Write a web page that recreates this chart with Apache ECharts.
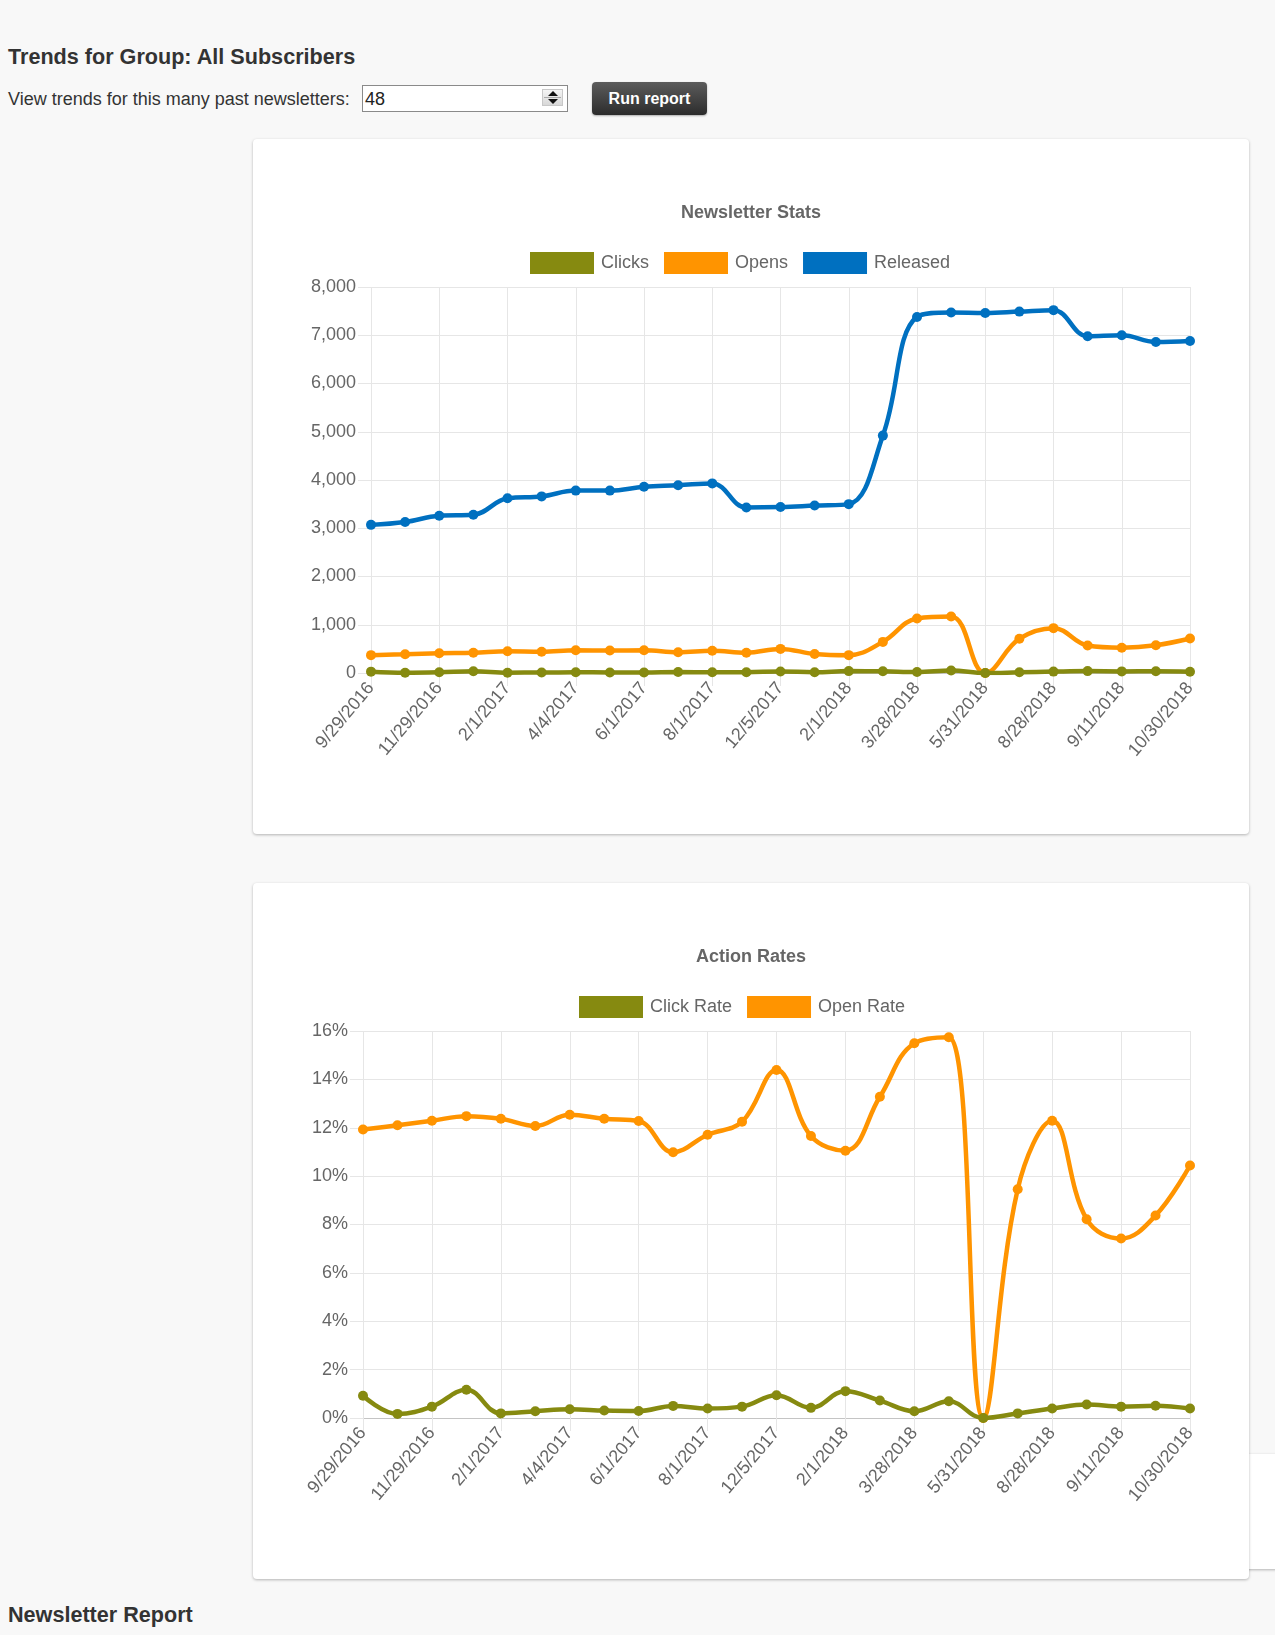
<!DOCTYPE html>
<html>
<head>
<meta charset="utf-8">
<script src="https://cdn.jsdelivr.net/npm/echarts@6/dist/echarts.min.js"></script>
<style>
  html, body { margin: 0; padding: 0; }
  body { width: 1275px; height: 1635px; background: #f8f8f8; position: relative; overflow: hidden;
         font-family: "Liberation Sans", Arial, Helvetica, sans-serif; color: #333; }
  .abs { position: absolute; white-space: nowrap; }
  .h { font-weight: bold; font-size: 21.6px; line-height: 21.6px; color: #333; }
  .lbl { font-size: 18px; line-height: 18px; color: #333; }
  .card { position: absolute; background: #fff; border-radius: 4px;
          box-shadow: 0 1px 3px rgba(0,0,0,0.28); }
  .inp { left: 362px; top: 85px; width: 204px; height: 25px; border: 1px solid #8a8a8a; background: #fff; }
  .inp .v { position: absolute; left: 2px; top: 4px; font-size: 18px; line-height: 18px; color: #222; }
  .spin { position: absolute; left: 179px; top: 3px; width: 21px; height: 17px;
          background: linear-gradient(#f4f4f4, #d8d8d8); border: 1px solid #c8c8c8; box-sizing: border-box; }
  .spin .mid { position: absolute; left: 1px; right: 1px; top: 7px; height: 1px; background: #aaa; }
  .tri-up { position: absolute; left: 5px; top: 1px; width: 0; height: 0;
            border-left: 5px solid transparent; border-right: 5px solid transparent; border-bottom: 5px solid #111; }
  .tri-dn { position: absolute; left: 5px; top: 9px; width: 0; height: 0;
            border-left: 5px solid transparent; border-right: 5px solid transparent; border-top: 5px solid #111; }
  .btn { left: 592px; top: 82px; width: 115px; height: 33px; border-radius: 4px;
         background: linear-gradient(#5c5c5c, #2c2c2c); color: #fff; font-weight: bold; font-size: 16px;
         line-height: 33px; text-align: center; box-shadow: 0 1px 2px rgba(0,0,0,0.3); }
</style>
</head>
<body>
<div class="abs h" style="left:8px; top:46px;">Trends for Group: All Subscribers</div>
<div class="abs lbl" style="left:8px; top:90px;">View trends for this many past newsletters:</div>
<div class="abs inp"><div class="v">48</div><div class="spin"><div class="tri-up"></div><div class="mid"></div><div class="tri-dn"></div></div></div>
<div class="abs btn">Run report</div>

<div class="card" style="left:1240px; top:1454px; width:60px; height:115px;"></div>
<div class="card" id="c1" style="left:253px; top:139px; width:996px; height:695px;"></div>
<div class="card" id="c2" style="left:253px; top:883px; width:996px; height:696px;"></div>

<div class="abs h" style="left:8px; top:1604px;">Newsletter Report</div>

<script>
// ---- data ----
const categories = [
  '9/29/2016', '10/27/2016', '11/29/2016', '1/5/2017', '2/1/2017', '3/1/2017', '4/4/2017',
  '5/2/2017', '6/1/2017', '7/5/2017', '8/1/2017', '10/3/2017', '12/5/2017', '1/9/2018',
  '2/1/2018', '3/6/2018', '3/28/2018', '4/25/2018', '5/31/2018', '7/10/2018', '8/28/2018',
  '8/30/2018', '9/11/2018', '10/2/2018', '10/30/2018'
];
const released = [3070, 3130, 3260, 3280, 3620, 3660, 3780, 3780, 3860, 3890, 3930, 3430, 3440,
                  3470, 3500, 4920, 7380, 7470, 7460, 7490, 7520, 6980, 7000, 6860, 6880];
const opens = [370, 390, 410, 420, 450, 440, 470, 465, 470, 430, 460, 420, 500,
               395, 370, 645, 1130, 1170, 0, 710, 930, 570, 525, 575, 715];
const clicks = [28, 5, 15, 38, 7, 10, 14, 12, 11, 19, 15, 16, 32,
                15, 39, 35, 21, 52, 0, 14, 29, 39, 33, 35, 27];
const clickRate = [0.92, 0.17, 0.47, 1.17, 0.19, 0.28, 0.36, 0.31, 0.29, 0.50, 0.39, 0.47, 0.94,
                   0.42, 1.11, 0.72, 0.28, 0.69, 0.0, 0.19, 0.39, 0.56, 0.47, 0.51, 0.39];
const openRate = [11.93, 12.10, 12.29, 12.48, 12.37, 12.07, 12.54, 12.37, 12.28, 10.99, 11.71, 12.25, 14.39,
                  11.66, 11.05, 13.28, 15.49, 15.74, 0.0, 9.46, 12.29, 8.22, 7.42, 8.37, 10.44];
const statsAxis = [0, 8000, 1000];   // min, max, step
const ratesAxis = [0, 16, 2];

// ---- styling ----
const FONT = '"Liberation Sans", Arial, Helvetica, sans-serif';
const OLIVE = '#868A10', ORANGE = '#FF9400', BLUE = '#0070C0';
const GRID = '#e6e6e6';

function lineSeries(name, data, color, z) {
  return {
    name, type: 'line', data, smooth: 0.4, z,
    symbol: 'circle', symbolSize: 10,
    lineStyle: { color, width: 4.5 },
    itemStyle: { color },
    emphasis: { disabled: true }
  };
}

function baseOption(title, legendLeft, gridLeft, yAxisDef, yFmt) {
  return {
    animation: false,
    title: {
      text: title, left: 'center', top: 65, padding: 0,
      textStyle: { fontFamily: FONT, fontSize: 18, fontWeight: 'bold', color: '#666' }
    },
    legend: {
      left: legendLeft, top: 113, padding: 0, itemGap: 15,
      itemWidth: 64, itemHeight: 22, icon: 'rect',
      textStyle: { fontFamily: FONT, fontSize: 18, color: '#666', padding: [0, 0, 0, 2] }
    },
    grid: { left: gridLeft, right: 59, top: 148, bottom: 161, containLabel: false },
    xAxis: {
      type: 'category', data: categories, boundaryGap: false,
      axisLine: { lineStyle: { color: '#c4c4c4', width: 1 } },
      axisTick: { show: true, interval: 1, length: 13, lineStyle: { color: GRID } },
      axisLabel: { interval: 1, rotate: 50, margin: 12, fontFamily: FONT, fontSize: 18, color: '#666' },
      splitLine: { show: true, interval: 1, lineStyle: { color: GRID } }
    },
    yAxis: {
      type: 'value', min: yAxisDef[0], max: yAxisDef[1], interval: yAxisDef[2],
      axisLine: { show: false },
      axisTick: { show: true, length: 13, lineStyle: { color: GRID } },
      axisLabel: { margin: 15, fontFamily: FONT, fontSize: 18, color: '#666', formatter: yFmt },
      splitLine: { show: true, lineStyle: { color: GRID } }
    }
  };
}

const c1 = echarts.init(document.getElementById('c1'));
const o1 = baseOption('Newsletter Stats', 277, 118, statsAxis,
  v => v.toString().replace(/\B(?=(\d{3})+(?!\d))/g, ','));
o1.series = [
  lineSeries('Clicks', clicks, OLIVE, 5),
  lineSeries('Opens', opens, ORANGE, 4),
  lineSeries('Released', released, BLUE, 3)
];
c1.setOption(o1);

const c2 = echarts.init(document.getElementById('c2'));
const o2 = baseOption('Action Rates', 326, 110, ratesAxis, v => v + '%');
o2.series = [
  lineSeries('Click Rate', clickRate, OLIVE, 5),
  lineSeries('Open Rate', openRate, ORANGE, 4)
];
c2.setOption(o2);
</script>
</body>
</html>
